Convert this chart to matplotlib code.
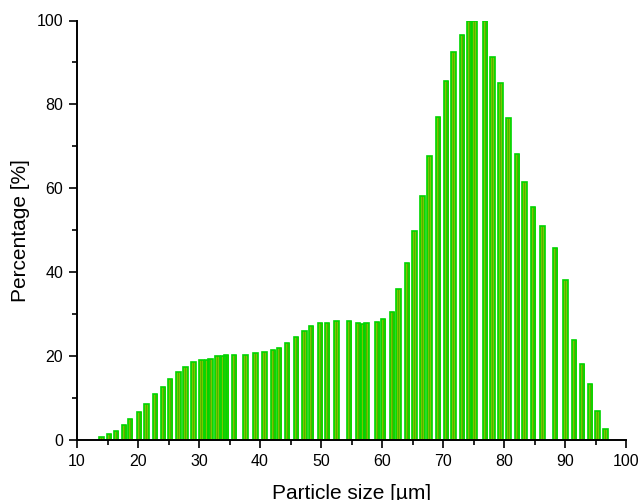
import numpy as np
import matplotlib
matplotlib.use("Agg")
import matplotlib.pyplot as plt
from matplotlib.colors import LinearSegmentedColormap
from matplotlib.ticker import MultipleLocator

plt.rcParams['font.family'] = ['Liberation Sans', 'DejaVu Sans']

# Particle size distribution
sizes = [14.05, 15.25, 16.4, 17.7, 18.7, 20.2, 21.4, 22.8, 24.1, 25.25,
         26.6, 27.8, 29.1, 30.4, 31.3, 31.85, 33.0, 34.0, 34.4, 35.7,
         37.6, 39.3, 40.7, 42.1, 43.1, 44.4, 45.9, 47.3, 48.4, 49.8,
         51.0, 52.5, 54.6, 56.1, 56.9, 57.5, 59.2, 60.2, 61.6, 62.7,
         64.1, 65.3, 66.6, 67.75, 69.2, 70.5, 71.7, 73.1, 74.3, 75.2,
         76.9, 78.1, 79.4, 80.7, 82.1, 83.4, 84.75, 86.3, 88.4, 90.1,
         91.5, 92.8, 94.1, 95.3, 96.6]
percentage = [0.7, 1.4, 2.1, 3.5, 5.0, 6.6, 8.5, 10.9, 12.7, 14.5,
              16.1, 17.4, 18.5, 19.0, 19.0, 19.2, 20.0, 20.0, 20.3, 20.2,
              20.2, 20.7, 21.0, 21.5, 21.9, 23.1, 24.5, 26.0, 27.1, 27.8,
              27.8, 28.3, 28.4, 27.8, 27.6, 27.8, 28.1, 28.8, 30.5, 35.9,
              42.3, 49.9, 58.1, 67.6, 77.0, 85.5, 92.6, 96.5, 100.0, 100.0,
              100.0, 91.4, 85.2, 76.7, 68.2, 61.6, 55.6, 50.9, 45.8, 38.2,
              23.9, 18.1, 13.4, 6.8, 2.6]

xlim = (10, 100)
ylim = (0, 100)
xticks = [10, 20, 30, 40, 50, 60, 70, 80, 90, 100]
yticks = [0, 20, 40, 60, 80, 100]

fig = plt.figure(figsize=(6.41, 5.0), dpi=100)
ax = fig.add_axes([77 / 641, 1 - 440 / 500, (626 - 77) / 641, (440 - 20.5) / 500])

bars = ax.bar(sizes, percentage, width=0.74, facecolor='none',
              edgecolor='#00d400', linewidth=1.2, zorder=3)

# horizontal shading inside each bar
shade = LinearSegmentedColormap.from_list(
    'shade', ['#44e000', '#92d800', '#3c9e00', '#92d800', '#44e000'])
grad = np.linspace(0, 1, 64).reshape(1, -1)
for patch in bars:
    x0 = patch.get_x()
    w = patch.get_width()
    h = patch.get_height()
    im = ax.imshow(grad, cmap=shade, aspect='auto', extent=[x0, x0 + w, 0, h],
                   interpolation='bilinear', zorder=2)
    im.set_clip_path(patch)

ax.set_xlim(*xlim)
ax.set_ylim(*ylim)
ax.set_xticks(xticks)
ax.set_yticks(yticks)
ax.xaxis.set_minor_locator(MultipleLocator(5))
ax.yaxis.set_minor_locator(MultipleLocator(10))

for side in ('top', 'right'):
    ax.spines[side].set_visible(False)
for side in ('left', 'bottom'):
    ax.spines[side].set_linewidth(1.4)
    ax.spines[side].set_zorder(5)

ax.tick_params(which='major', direction='out', length=6, width=1.2,
               labelsize=11.5, pad=4)
ax.tick_params(which='minor', direction='out', length=3.5, width=1.2)

ax.set_xlabel('Particle size [µm]', fontsize=15, labelpad=11)
ax.set_ylabel('Percentage [%]', fontsize=15, labelpad=5)

fig.savefig('out.png', dpi=100)
